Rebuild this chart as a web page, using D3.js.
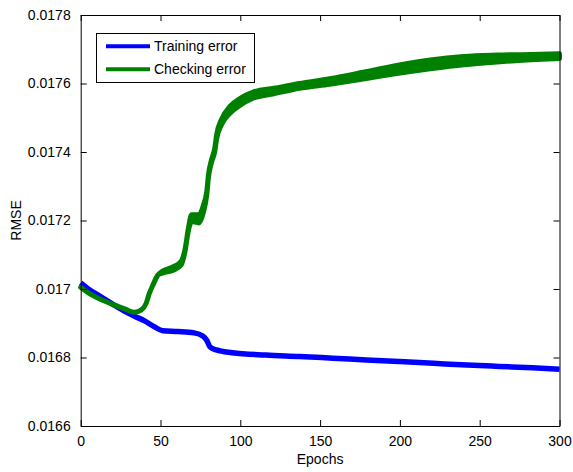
<!DOCTYPE html>
<html>
<head>
<meta charset="utf-8">
<script src="https://cdn.jsdelivr.net/npm/d3@7"></script>
<style>
  html, body { margin: 0; padding: 0; background: #fff; }
  svg { display: block; }
  text { font-family: "Liberation Sans", Arial, sans-serif; fill: #000; }
</style>
</head>
<body>
<svg id="chart" width="573" height="472"></svg>
<script>
// ---- data ----
const xTicks = [0, 50, 100, 150, 200, 250, 300];
const yTicks = [0.0166, 0.0168, 0.017, 0.0172, 0.0174, 0.0176, 0.0178];
const yTickLabels = ["0.0166", "0.0168", "0.017", "0.0172", "0.0174", "0.0176", "0.0178"];
const seriesNames = ["Training error", "Checking error"];

const trainEpochs = [0, 5, 11, 20, 28, 34, 40, 46, 51.5, 61, 71, 76.5, 79, 81, 85, 95, 116, 137, 158, 179, 200, 221, 242, 262, 283, 300];
const trainRMSE = [0.017018, 0.016999, 0.016982, 0.016956, 0.016934, 0.016920, 0.016907, 0.016890, 0.016878, 0.016876, 0.016872, 0.016863, 0.016850, 0.016831, 0.016822, 0.016814, 0.016807, 0.016803, 0.016798, 0.016793, 0.016788, 0.016783, 0.016778, 0.016774, 0.016770, 0.016766];

const checkEpochs = [0, 5, 11, 20, 28, 33.7, 38, 41, 43, 45.3, 48.4, 51.6, 58, 63, 65.4, 67.4, 69.5, 74, 77, 79, 80, 82, 84, 85.2, 88.3, 93.5, 100, 108, 121, 137, 156, 177, 198, 219, 240, 261, 282, 300];
const checkRMSE = [0.017005, 0.016988, 0.016973, 0.016955, 0.016941, 0.016932, 0.016939, 0.016958, 0.016987, 0.017012, 0.017041, 0.017050, 0.017060, 0.017076, 0.017114, 0.017172, 0.017207, 0.017205, 0.017236, 0.017280, 0.017328, 0.017374, 0.017406, 0.017445, 0.017488, 0.017523, 0.017547, 0.017566, 0.017578, 0.017593, 0.017606, 0.017623, 0.017641, 0.017656, 0.017667, 0.017673, 0.017677, 0.017680];
// half-height of the oscillation band of the checking curve
const checkSpread = [0, 0, 0, 0, 0, 0, 0, 0, 0, 0, 0, 0.000003, 0.000005, 0.000005, 0.000003, 0.000003, 0.000010, 0.000012, 0.000010, 0.000005, 0.000004, 0.000004, 0.000005, 0.000006, 0.000008, 0.000010, 0.000010, 0.000009, 0.000008, 0.000007, 0.000008, 0.000010, 0.000012, 0.000013, 0.000012, 0.000010, 0.000008, 0.000007];

// ---- layout ----
const svg = d3.select("#chart");
const L = 80.7, R = 559.5, T = 15, B = 426;
const x = d3.scaleLinear().domain([0, 300]).range([L, R]);
const y = d3.scaleLinear().domain([0.0166, 0.0178]).range([B, T]);

svg.append("rect").attr("width", 573).attr("height", 472).attr("fill", "#fff");

const train = trainEpochs.map((e, i) => ({e, v: trainRMSE[i]}));
const check = checkEpochs.map((e, i) => ({e, v: checkRMSE[i], s: checkSpread[i]}));

const line = d3.line().x(d => x(d.e)).y(d => y(d.v)).curve(d3.curveMonotoneX);
const band = d3.area().x(d => x(d.e)).y0(d => y(d.v - d.s)).y1(d => y(d.v + d.s)).curve(d3.curveMonotoneX);

svg.append("path").datum(train).attr("d", line)
  .attr("fill", "none").attr("stroke", "#0000ff").attr("stroke-width", 5.5)
  .attr("stroke-linejoin", "round");

svg.append("path").datum(check).attr("d", band)
  .attr("fill", "#008000").attr("stroke", "#008000").attr("stroke-width", 5)
  .attr("stroke-linejoin", "round");

// ---- axes (MATLAB box style, ticks inward) ----
const axB = d3.axisBottom(x).tickValues(xTicks).tickSizeInner(-6).tickSizeOuter(0).tickPadding(10);
const axT = d3.axisTop(x).tickValues(xTicks).tickSizeInner(-6).tickSizeOuter(0).tickFormat("");
const axL = d3.axisLeft(y).tickValues(yTicks).tickSizeInner(-6).tickSizeOuter(0).tickPadding(10)
  .tickFormat((d, i) => yTickLabels[i]);
const axR = d3.axisRight(y).tickValues(yTicks).tickSizeInner(-6).tickSizeOuter(0).tickFormat("");

function style(g) {
  g.selectAll("path.domain").attr("stroke", "#000").attr("stroke-width", 1);
  g.selectAll(".tick line").attr("stroke", "#000").attr("stroke-width", 1);
  g.selectAll(".tick text").attr("font-size", 14).attr("font-family", "Liberation Sans, Arial, sans-serif").attr("fill", "#000");
}
svg.append("g").attr("transform", `translate(0,${B})`).call(axB).call(style);
svg.append("g").attr("transform", `translate(0,${T})`).call(axT).call(style);
svg.append("g").attr("transform", `translate(${L},0)`).call(axL).call(style);
svg.append("g").attr("transform", `translate(${R},0)`).call(axR).call(style);

// axis labels
svg.append("text").attr("x", (L + R) / 2).attr("y", 464).attr("text-anchor", "middle")
  .attr("font-size", 14).text("Epochs");
svg.append("text").attr("transform", `translate(21,${(T + B) / 2}) rotate(-90)`)
  .attr("text-anchor", "middle").attr("font-size", 14).text("RMSE");

// ---- legend ----
const lg = svg.append("g");
lg.append("rect").attr("x", 96.5).attr("y", 33.5).attr("width", 158).attr("height", 49)
  .attr("fill", "#fff").attr("stroke", "#000").attr("stroke-width", 1);
const colors = ["#0000ff", "#008000"];
seriesNames.forEach((name, i) => {
  const yy = 46.3 + i * 23;
  lg.append("line").attr("x1", 106).attr("x2", 150).attr("y1", yy).attr("y2", yy)
    .attr("stroke", colors[i]).attr("stroke-width", 4);
  lg.append("text").attr("x", 154).attr("y", yy + 5).attr("font-size", 14).text(name);
});
</script>
</body>
</html>
